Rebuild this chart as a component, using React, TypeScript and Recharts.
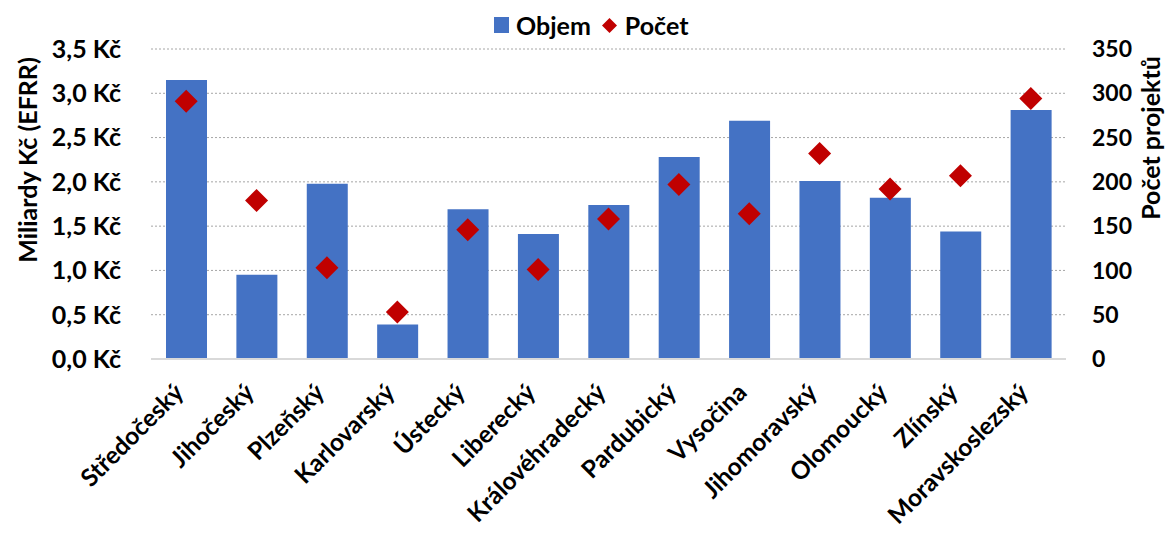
import { ComposedChart, Bar, Line, XAxis, YAxis, CartesianGrid } from 'recharts'

const regions = [
  'Středočeský', 'Jihočeský', 'Plzeňský', 'Karlovarský', 'Ústecký', 'Liberecký',
  'Královéhradecký', 'Pardubický', 'Vysočina', 'Jihomoravský', 'Olomoucký', 'Zlínský',
  'Moravskoslezský',
]
const objem = [3.15, 0.95, 1.98, 0.39, 1.69, 1.41, 1.74, 2.28, 2.69, 2.01, 1.82, 1.44, 2.81]
const pocet = [291, 179, 103, 53, 146, 101, 158, 197, 164, 232, 192, 207, 294]
const leftTicks = [0, 0.5, 1, 1.5, 2, 2.5, 3, 3.5]
const rightTicks = [0, 50, 100, 150, 200, 250, 300, 350]

const data = regions.map((name, i) => ({ name, objem: objem[i], pocet: pocet[i] }))

const FONT = 'Lato, "Open Sans", sans-serif'
const BLUE = '#4472C4'
const RED = '#C00000'

function Diamond({ cx, cy }: any) {
  if (cx == null || cy == null) return null
  const r = 11.5
  return (
    <polygon
      points={`${cx},${cy - r} ${cx + r},${cy} ${cx},${cy + r} ${cx - r},${cy}`}
      fill={RED}
    />
  )
}

function XTick({ x, y, payload }: any) {
  return (
    <g transform={`translate(${x - 1},${y + 27})`}>
      <text
        transform="rotate(-45)"
        textAnchor="end"
        fontFamily={FONT}
        fontWeight={700}
        fontSize={24.5}
        fill="#000"
      >
        {payload.value}
      </text>
    </g>
  )
}

function LegendBox() {
  return (
    <div
      style={{
        position: 'absolute', left: 494, top: 10, display: 'flex', alignItems: 'center',
        fontFamily: FONT, fontWeight: 700, fontSize: 25, color: '#000', lineHeight: '30px',
      }}
    >
      <span style={{ display: 'inline-block', width: 15, height: 16, background: BLUE, marginRight: 7 }} />
      <span style={{ marginRight: 11 }}>Objem</span>
      <svg width={15} height={15} style={{ marginRight: 8 }}>
        <polygon points="7.5,0 15,7.5 7.5,15 0,7.5" fill={RED} />
      </svg>
      <span>Počet</span>
    </div>
  )
}

export default function App() {
  return (
    <div style={{ position: 'absolute', left: 0, top: 0, width: 1169, height: 534, background: '#fff' }}>
      <ComposedChart
        width={1169}
        height={534}
        data={data}
        margin={{ top: 49, right: 0, left: 0, bottom: 0 }}
        barSize={41}
      >
        <CartesianGrid
          vertical={false}
          stroke="#A6A6A6"
          strokeDasharray="2 2"
          yAxisId="left"
        />
        <XAxis
          dataKey="name"
          interval={0}
          tick={<XTick />}
          tickLine={false}
          axisLine={{ stroke: '#D9D9D9', strokeWidth: 2 }}
          height={175}
        />
        <YAxis
          yAxisId="left"
          domain={[0, 3.5]}
          ticks={leftTicks}
          width={151}
          axisLine={false}
          tickLine={false}
          tickMargin={24}
          tick={{ fill: '#000', fontFamily: FONT, fontWeight: 700, fontSize: 25 }}
          tickFormatter={(v: number) => v.toFixed(1).replace('.', ',') + ' Kč'}
          label={{
            value: 'Miliardy Kč (EFRR)', angle: -90, position: 'insideLeft', dx: 23, dy: -44,
            style: { fill: '#000', fontFamily: FONT, fontWeight: 700, fontSize: 25, textAnchor: 'middle' },
          }}
        />
        <YAxis
          yAxisId="right"
          orientation="right"
          domain={[0, 350]}
          ticks={rightTicks}
          width={103}
          axisLine={false}
          tickLine={false}
          tickMargin={20}
          tick={{ fill: '#000', fontFamily: FONT, fontWeight: 700, fontSize: 23 }}
          label={{
            value: 'Počet projektů', angle: -90, position: 'insideLeft', dx: 80, dy: -66,
            style: { fill: '#000', fontFamily: FONT, fontWeight: 700, fontSize: 25, textAnchor: 'middle' },
          }}
        />
        <Bar yAxisId="left" dataKey="objem" name="Objem" fill={BLUE} isAnimationActive={false} />
        <Line
          yAxisId="right"
          dataKey="pocet"
          name="Počet"
          stroke="none"
          strokeWidth={0}
          dot={<Diamond />}
          activeDot={false}
          legendType="diamond"
          isAnimationActive={false}
        />
      </ComposedChart>
      <LegendBox />
    </div>
  )
}
